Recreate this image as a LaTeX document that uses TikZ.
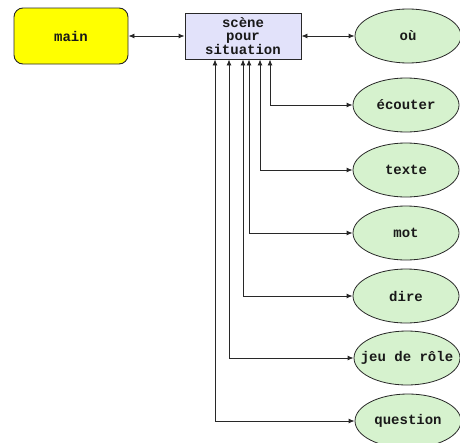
\documentclass[tikz,border=0pt]{standalone}
\usepackage{fontspec}
\setmainfont{Liberation Mono}
\usetikzlibrary{arrows.meta,shapes.geometric}
\definecolor{mainyellow}{RGB}{255,255,0}
\definecolor{scenefill}{RGB}{226,226,250}
\definecolor{ovalfill}{RGB}{214,242,206}
\definecolor{linecol}{RGB}{40,40,40}
\newcommand{\ctext}[1]{\makebox[0pt]{#1}}
\tikzset{
  lbl/.style={font=\fontsize{14}{12.5}\selectfont\bfseries, text=black!90},
  mainbox/.style={lbl, draw=linecol, line width=0.9pt, fill=mainyellow, rounded corners=9pt, minimum width=114pt, minimum height=56pt, inner sep=0pt},
  scenebox/.style={lbl, draw=linecol, line width=0.9pt, fill=scenefill, minimum width=116pt, minimum height=46pt, inner sep=0pt, align=center},
  oval/.style={lbl, ellipse, draw=linecol, line width=0.8pt, fill=ovalfill, minimum width=106pt, minimum height=54pt, inner sep=0pt},
  tip/.style={Latex[length=6pt,width=5pt]},
  conn/.style={draw=linecol, line width=0.9pt, {Latex[length=6pt,width=5pt]}-{Latex[length=6pt,width=5pt]}}
}
\begin{document}
\begin{tikzpicture}[x=1pt,y=-1pt]
\useasboundingbox (0,0) rectangle (460,442);
\clip (0,0) rectangle (460,442);
\node[mainbox] (main) at (71,36) {main};
\node[scenebox] (scene) at (243,36) {scène\\pour\\situation};
\node[oval] (ou) at (408,36) {\ctext{où}};
\node[oval] (ecouter) at (406,105) {\ctext{écouter}};
\node[oval] (texte) at (406,170) {\ctext{texte}};
\node[oval] (mot) at (406,233) {\ctext{mot}};
\node[oval] (dire) at (406,296) {\ctext{dire}};
\node[oval] (jeu) at (407,358) {\ctext{jeu de rôle}};
\node[oval] (question) at (408,421) {\ctext{question}};
\draw[conn] (main) -- (scene);
\draw[conn] (scene) -- (ou);
\draw[conn] (scene.south -| 270,0) |- (ecouter);
\draw[conn] (scene.south -| 260,0) |- (texte);
\draw[conn] (scene.south -| 249,0) |- (mot);
\draw[conn] (scene.south -| 243,0) |- (dire);
\draw[conn] (scene.south -| 229,0) |- (jeu);
\draw[conn] (scene.south -| 215,0) |- (question);
\end{tikzpicture}
\end{document}
